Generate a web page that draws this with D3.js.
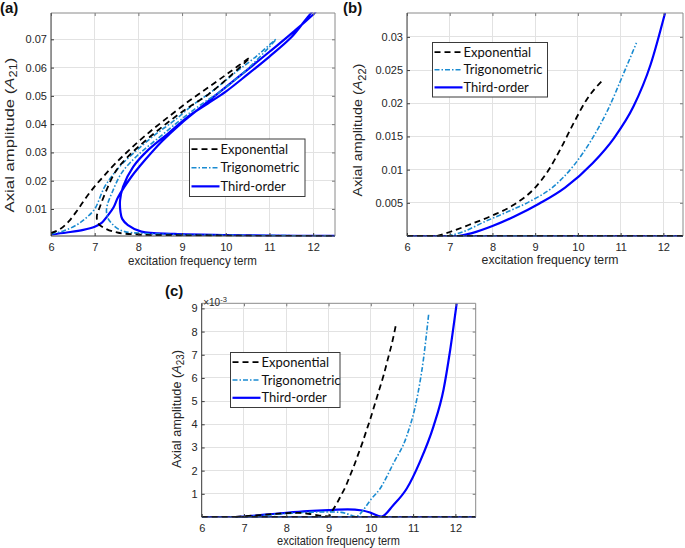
<!DOCTYPE html>
<html><head><meta charset="utf-8">
<script src="https://cdn.jsdelivr.net/npm/d3@7"></script>
<style>html,body{margin:0;padding:0;background:#fff;} svg{display:block;}</style>
</head><body><svg id="chart" width="685" height="548"></svg>
<script>
// ---------------- data ----------------
const xTicks = [6, 7, 8, 9, 10, 11, 12];
const xTickLabels = ["6", "7", "8", "9", "10", "11", "12"];
const aYTicks = [0.01, 0.02, 0.03, 0.04, 0.05, 0.06, 0.07];
const aYTickLabels = ["0.01", "0.02", "0.03", "0.04", "0.05", "0.06", "0.07"];
const bYTicks = [0.005, 0.01, 0.015, 0.02, 0.025, 0.03];
const bYTickLabels = ["0.005", "0.01", "0.015", "0.02", "0.025", "0.03"];
const cYTicks = [1, 2, 3, 4, 5, 6, 7, 8, 9];
const cYTickLabels = ["1", "2", "3", "4", "5", "6", "7", "8", "9"];
const seriesNames = ["Exponential", "Trigonometric", "Third-order"];
const panelLabels = ["(a)", "(b)", "(c)"];
const xLabel = "excitation frequency term";
const ySubscripts = ["21", "22", "23"];

// panel (a): A21 frequency response (upper branch, unstable branch, lower branch)
const aExpX = [6.0, 6.2, 6.4, 6.6, 6.8, 7.0, 7.2, 7.5, 7.8, 8.2, 8.6, 9.1, 9.6, 10.1, 10.55, 10.1, 9.6, 9.06, 8.6, 8.18, 7.8, 7.5, 7.27, 7.12, 7.05, 7.08, 7.27, 7.54, 8.07, 9.0, 10.0, 11.0, 12.5];
const aExpY = [0.0015, 0.0028, 0.0055, 0.0095, 0.0140, 0.0180, 0.0215, 0.0265, 0.0310, 0.0365, 0.0415, 0.0475, 0.0530, 0.0585, 0.0635, 0.0570, 0.0505, 0.0450, 0.0397, 0.0344, 0.0291, 0.0238, 0.0167, 0.0108, 0.0075, 0.0049, 0.0029, 0.0016, 0.0009, 0.0007, 0.0006, 0.0005, 0.0004];
const aTriX = [6.0, 6.3, 6.6, 6.8, 7.0, 7.23, 7.54, 7.92, 8.37, 8.83, 9.29, 9.67, 10.2, 10.7, 11.15, 10.6, 10.0, 9.36, 8.91, 8.45, 7.99, 7.61, 7.39, 7.29, 7.27, 7.31, 7.39, 7.5, 7.69, 8.07, 9.0, 10.0, 11.0, 12.5];
const aTriY = [0.0012, 0.0023, 0.0045, 0.0068, 0.0100, 0.0179, 0.0244, 0.0302, 0.0361, 0.0414, 0.0473, 0.0514, 0.0580, 0.0640, 0.0700, 0.0610, 0.0530, 0.0461, 0.0408, 0.0350, 0.0291, 0.0226, 0.0155, 0.0115, 0.0090, 0.0065, 0.0049, 0.0033, 0.0020, 0.0014, 0.0009, 0.0007, 0.0006, 0.0005];
const aThiX = [6.0, 6.36, 6.74, 7.0, 7.15, 7.31, 7.43, 7.54, 7.84, 8.15, 8.53, 8.98, 9.44, 10.0, 10.5, 11.0, 11.5, 12.1, 12.04, 11.5, 11.0, 10.5, 10.0, 9.59, 9.13, 8.68, 8.22, 7.88, 7.65, 7.58, 7.59, 7.63, 7.76, 8.07, 8.83, 10.0, 11.0, 12.5];
const aThiY = [0.0010, 0.0017, 0.0026, 0.0037, 0.0050, 0.0079, 0.0105, 0.0143, 0.0214, 0.0273, 0.0338, 0.0403, 0.0461, 0.0531, 0.0593, 0.0656, 0.0720, 0.0805, 0.0805, 0.0707, 0.0639, 0.0576, 0.0515, 0.0473, 0.0426, 0.0367, 0.0308, 0.0249, 0.0179, 0.0130, 0.0090, 0.0065, 0.0043, 0.0020, 0.0012, 0.0008, 0.0006, 0.0005];

// panel (b): A22
const bZeroX = [6.0, 12.5];
const bZeroY = [0, 0];
const bExpX = [6.7, 7.0, 7.5, 8.0, 8.5, 9.0, 9.3, 9.6, 9.9, 10.2, 10.6];
const bExpY = [0, 0.0006, 0.0018, 0.0031, 0.0047, 0.0073, 0.0098, 0.0132, 0.0170, 0.0205, 0.0236];
const bTriX = [6.95, 7.3, 7.8, 8.3, 8.9, 9.4, 9.9, 10.3, 10.7, 11.07, 11.37];
const bTriY = [0, 0.0006, 0.0021, 0.0035, 0.0053, 0.0073, 0.0106, 0.0143, 0.0190, 0.0245, 0.0291];
const bThiX = [7.2, 7.5, 8.0, 8.5, 9.1, 9.7, 10.35, 10.85, 11.3, 11.7, 12.04];
const bThiY = [0, 0.0004, 0.0015, 0.0029, 0.0049, 0.0073, 0.0110, 0.0148, 0.0195, 0.0258, 0.0336];

// panel (c): A23 (x 1e-3)
const cZeroX = [6.0, 12.5];
const cZeroY = [0, 0];
const cExpX = [6.8, 7.0, 7.5, 8.0, 8.3, 8.6, 8.9, 9.0, 9.1, 9.2, 9.3, 9.4, 9.5, 9.6, 9.7, 9.8, 9.9, 10.0, 10.1, 10.2, 10.3, 10.4, 10.5, 10.6];
const cExpY = [0, 0.03, 0.10, 0.17, 0.18, 0.12, 0.04, 0.03, 0.30, 0.60, 0.95, 1.30, 1.75, 2.20, 2.70, 3.20, 3.75, 4.30, 4.90, 5.50, 6.10, 6.80, 7.50, 8.35];
const cTriX = [6.8, 7.0, 7.5, 8.0, 8.5, 9.0, 9.3, 9.5, 9.65, 9.8, 9.9, 10.0, 10.22, 10.53, 10.85, 11.1, 11.24, 11.37];
const cTriY = [0, 0.02, 0.08, 0.15, 0.20, 0.22, 0.20, 0.10, 0.02, 0.25, 0.50, 0.75, 1.23, 2.30, 3.50, 5.20, 6.75, 8.79];
const cThiX = [6.8, 7.0, 7.5, 8.0, 8.5, 9.0, 9.45, 9.8, 10.0, 10.25, 10.53, 10.85, 11.16, 11.48, 11.72, 11.87, 12.03];
const cThiY = [0, 0.02, 0.10, 0.18, 0.25, 0.30, 0.33, 0.28, 0.18, 0.02, 0.51, 1.23, 2.38, 3.90, 5.50, 7.13, 9.22];

// ---------------- drawing ----------------
const svg = d3.select("#chart");
const defs = svg.append("defs");
const FONT = "'Liberation Sans', Arial, Helvetica, sans-serif";
const LEGFONT = "Lato, 'Noto Sans', sans-serif";
const TXT = "#262626";
const styles = [
  { color: "#000000", width: 1.8, dash: "6,4" },
  { color: "#1a8bd1", width: 1.6, dash: "5,2,1.5,2" },
  { color: "#0000ff", width: 2.2, dash: null }
];

const zip = (xs, ys) => xs.map((v, i) => [v, ys[i]]);

function drawPanel(cfg, idx) {
  const g = svg.append("g");
  const x = d3.scaleLinear().domain(cfg.xDomain).range([cfg.left, cfg.right]);
  const y = d3.scaleLinear().domain(cfg.yDomain).range([cfg.bottom, cfg.top]);
  const w = cfg.right - cfg.left, h = cfg.bottom - cfg.top;

  g.append("rect").attr("x", cfg.left).attr("y", cfg.top).attr("width", w).attr("height", h).attr("fill", "#fff");

  // grid
  g.append("g").selectAll("line").data(xTicks).join("line")
    .attr("x1", d => x(d)).attr("x2", d => x(d)).attr("y1", cfg.top).attr("y2", cfg.bottom)
    .attr("stroke", "#e2e2e2").attr("stroke-width", 1).attr("shape-rendering", "crispEdges");
  g.append("g").selectAll("line").data(cfg.yTicks).join("line")
    .attr("y1", d => y(d)).attr("y2", d => y(d)).attr("x1", cfg.left).attr("x2", cfg.right)
    .attr("stroke", "#e2e2e2").attr("stroke-width", 1).attr("shape-rendering", "crispEdges");

  // clip
  const cid = "clip" + idx;
  defs.append("clipPath").attr("id", cid).append("rect")
    .attr("x", cfg.left).attr("y", cfg.top - 0.5).attr("width", w).attr("height", h + 1);
  const lg = g.append("g").attr("clip-path", `url(#${cid})`);

  const line = d3.line().x(d => x(d[0])).y(d => y(d[1])).curve(cfg.curve);
  // draw order: third-order, trigonometric, exponential
  [2, 1, 0].forEach(si => {
    const st = styles[si];
    cfg.series[si].forEach(pts => {
      lg.append("path").attr("d", line(pts))
        .attr("fill", "none").attr("stroke", st.color).attr("stroke-width", st.width)
        .attr("stroke-dasharray", st.dash).attr("stroke-linejoin", "round");
    });
  });

  // axes
  const axB = d3.axisBottom(x).tickValues(xTicks).tickFormat((d, i) => xTickLabels[i])
    .tickSizeInner(-3).tickSizeOuter(0).tickPadding(7);
  const axT = d3.axisTop(x).tickValues(xTicks).tickFormat("").tickSizeInner(-3).tickSizeOuter(0);
  const axL = d3.axisLeft(y).tickValues(cfg.yTicks).tickFormat((d, i) => cfg.yTickLabels[i])
    .tickSizeInner(-3).tickSizeOuter(0).tickPadding(4);
  const axR = d3.axisRight(y).tickValues(cfg.yTicks).tickFormat("").tickSizeInner(-3).tickSizeOuter(0);

  const gb = g.append("g").attr("transform", `translate(0,${cfg.bottom})`).call(axB);
  const gt = g.append("g").attr("transform", `translate(0,${cfg.top})`).call(axT);
  const gl = g.append("g").attr("transform", `translate(${cfg.left},0)`).call(axL);
  const gr = g.append("g").attr("transform", `translate(${cfg.right},0)`).call(axR);
  [gb, gt, gl, gr].forEach(a => {
    a.select(".domain").remove();
    a.selectAll("text").attr("font-family", FONT).attr("font-size", 11).attr("fill", TXT);
  });
  [gb, gl].forEach(a => a.selectAll("line").attr("stroke", "#3c3c3c"));
  [gt, gr].forEach(a => a.selectAll("line").attr("stroke", "#7a7a7a"));

  // box
  g.append("line").attr("x1", cfg.left).attr("x2", cfg.right).attr("y1", cfg.top).attr("y2", cfg.top).attr("stroke", "#8a8a8a");
  g.append("line").attr("x1", cfg.right).attr("x2", cfg.right).attr("y1", cfg.top).attr("y2", cfg.bottom).attr("stroke", "#8a8a8a");
  g.append("line").attr("x1", cfg.left).attr("x2", cfg.right).attr("y1", cfg.bottom).attr("y2", cfg.bottom).attr("stroke", "#3c3c3c");
  g.append("line").attr("x1", cfg.left).attr("x2", cfg.left).attr("y1", cfg.top).attr("y2", cfg.bottom).attr("stroke", "#3c3c3c");

  // x label
  const xl = g.append("text").attr("font-family", FONT).attr("font-size", 13).attr("fill", TXT)
    .attr("text-anchor", "middle").text(xLabel);
  const xw = xl.node().getComputedTextLength();
  xl.attr("transform", `translate(${cfg.xLabelCx},${cfg.xLabelBase}) scale(${cfg.xLabelLen / xw},1)`);

  // y label
  const yl = g.append("text").attr("font-family", FONT).attr("font-size", 13).attr("fill", TXT)
    .attr("text-anchor", "middle");
  yl.append("tspan").text("Axial amplitude (");
  yl.append("tspan").attr("font-style", "italic").text("A");
  yl.append("tspan").attr("font-size", 10).attr("dy", 3.5).text(ySubscripts[idx]);
  yl.append("tspan").attr("dy", -3.5).text(")");
  const yw = yl.node().getComputedTextLength();
  yl.attr("transform", `translate(${cfg.yLabelBase},${cfg.yLabelCy}) rotate(-90) scale(${cfg.yLabelLen / yw},1)`);

  // panel label
  g.append("text").attr("x", cfg.tagX).attr("y", cfg.tagY).attr("font-family", FONT)
    .attr("font-weight", "bold").attr("font-size", 15).attr("fill", "#111").text(panelLabels[idx]);

  // exponent
  if (cfg.exponent) {
    const et = g.append("text").attr("x", cfg.left + 1.5).attr("y", cfg.top + 2.5)
      .attr("font-family", FONT).attr("font-size", 10).attr("fill", TXT);
    et.append("tspan").text("\u00d710");
    et.append("tspan").attr("font-size", 7.5).attr("dy", -4).text(cfg.exponent);
  }

  // legend
  const L = cfg.legend;
  const leg = g.append("g");
  leg.append("rect").attr("x", L.x).attr("y", L.y).attr("width", L.w).attr("height", L.h)
    .attr("fill", "#fff").attr("stroke", "#3a3a3a").attr("stroke-width", 1);
  const rows = [9.7, 27.5, 45.3].map(v => v * L.h / 55);
  seriesNames.forEach((name, i) => {
    const st = styles[i];
    const ry = L.y + rows[i];
    leg.append("line").attr("x1", L.x + 2).attr("x2", L.x + 30).attr("y1", ry).attr("y2", ry)
      .attr("stroke", st.color).attr("stroke-width", st.width).attr("stroke-dasharray", st.dash);
    leg.append("text").attr("x", L.x + 31).attr("y", ry + 4.6).attr("font-family", LEGFONT)
      .attr("font-size", 13).attr("fill", "#111").text(name);
  });
}

const panels = [
  {
    left: 51, right: 335, top: 13, bottom: 236,
    xDomain: [6, 12.5], yDomain: [0.00045, 0.0793],
    yTicks: aYTicks, yTickLabels: aYTickLabels, curve: d3.curveCatmullRom.alpha(0.5),
    series: [[zip(aExpX, aExpY)], [zip(aTriX, aTriY)], [zip(aThiX, aThiY)]],
    xLabelCx: 192.5, xLabelBase: 265, xLabelLen: 129,
    yLabelBase: 13.5, yLabelCy: 135, yLabelLen: 155,
    tagX: 0, tagY: 12.5,
    legend: { x: 189.5, y: 139, w: 115.5, h: 57.5 }
  },
  {
    left: 407, right: 683, top: 13, bottom: 236,
    xDomain: [6, 12.46], yDomain: [0, 0.0336],
    yTicks: bYTicks, yTickLabels: bYTickLabels, curve: d3.curveMonotoneX,
    series: [[zip(bZeroX, bZeroY), zip(bExpX, bExpY)], [zip(bZeroX, bZeroY), zip(bTriX, bTriY)], [zip(bZeroX, bZeroY), zip(bThiX, bThiY)]],
    xLabelCx: 550, xLabelBase: 264, xLabelLen: 137,
    yLabelBase: 362, yLabelCy: 130, yLabelLen: 133,
    tagX: 343, tagY: 12.5,
    legend: { x: 432.5, y: 42.5, w: 115, h: 54.5 }
  },
  {
    left: 201.7, right: 475.7, top: 303.3, bottom: 517,
    xDomain: [6, 12.48], yDomain: [0, 9.22],
    yTicks: cYTicks, yTickLabels: cYTickLabels, curve: d3.curveMonotoneX,
    series: [[zip(cZeroX, cZeroY), zip(cExpX, cExpY)], [zip(cZeroX, cZeroY), zip(cTriX, cTriY)], [zip(cZeroX, cZeroY), zip(cThiX, cThiY)]],
    xLabelCx: 338.5, xLabelBase: 545, xLabelLen: 123,
    yLabelBase: 180.5, yLabelCy: 409, yLabelLen: 118,
    tagX: 165, tagY: 296, exponent: "-3",
    legend: { x: 230.5, y: 352.5, w: 109.5, h: 55 }
  }
];

panels.forEach((p, i) => drawPanel(p, i));
</script>
</body></html>
